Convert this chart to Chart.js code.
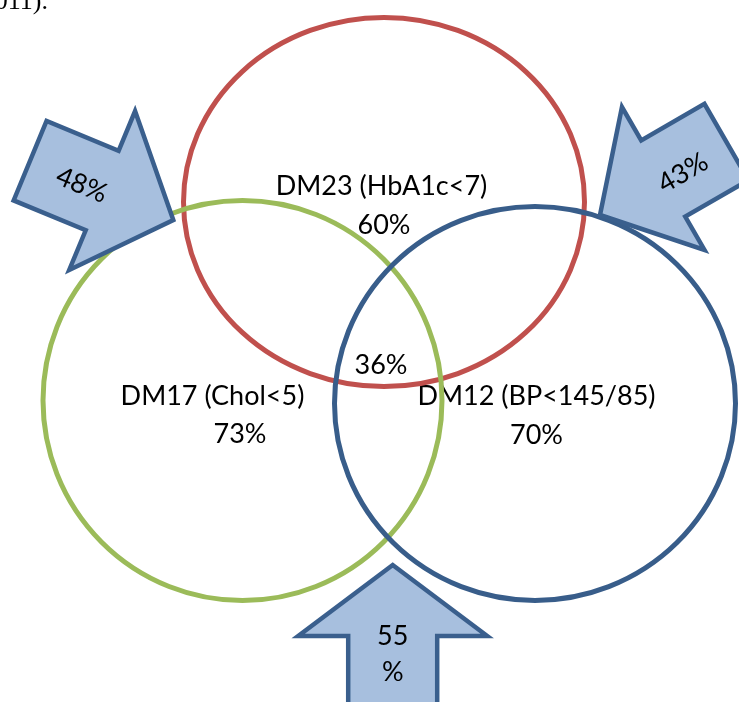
<!DOCTYPE html>
<html>
<head>
<meta charset="utf-8">
<script src="https://cdn.jsdelivr.net/npm/chart.js@4/dist/chart.umd.min.js"></script>
<style>
  html, body { margin: 0; padding: 0; background: #ffffff; }
  #venn { display: block; }
</style>
</head>
<body>
<canvas id="venn" width="739" height="702"></canvas>
<script>
// Diabetes care targets: share of patients meeting each target and their overlaps
const setNames = ['DM23 (HbA1c<7)', 'DM17 (Chol<5)', 'DM12 (BP<145/85)'];
const setValues = [60, 73, 70];
const allThreeValue = 36;
const pairValues = [48, 43, 55];   // HbA1c+Chol, HbA1c+BP, Chol+BP

// Diagram layout (in the plotting plane's units)
const setCenterX = [384, 242.5, 535];
const setCenterY = [202, 400.5, 403.5];
const setRadiusX = [200.5, 199.5, 200.5];
const setRadiusY = [184.5, 200, 197];
const setColors = ['#C0504D', '#9BBB59', '#385D8A'];
const setNameX = [381.5, 212.5, 536.5];
const setNameY = [186, 396, 396];
const setValueX = [384, 240, 536.5];
const setValueY = [225, 434, 435];
const allThreeX = 381;
const allThreeY = 365;

// Block arrows pointing into each pairwise overlap
const arrowTipX = [173.3, 600, 392.7];
const arrowTipY = [220, 215, 565];
const arrowAngle = [22.5, 150, -90];      // degrees, screen orientation
const arrowLength = [155, 146, 150];
const arrowHeadLength = [77, 73, 71];
const arrowHeadWidth = [172, 165, 189];
const arrowShaftWidth = [86, 88, 89];
const arrowLabelX = [81.7, 683, 392.7];
const arrowLabelY = [185, 173, 636];
const arrowLabelAngle = [22.5, -30, 0];

const FONT = 'Lato, "Open Sans", sans-serif';
const FONT_SIZE = 27;

const vennPlugin = {
  id: 'vennShapes',
  afterDatasetsDraw(chart) {
    const ctx = chart.ctx;
    const sx = chart.scales.x, sy = chart.scales.y;
    const px = v => sx.getPixelForValue(v);
    const py = v => sy.getPixelForValue(v);
    const lenX = v => Math.abs(sx.getPixelForValue(v) - sx.getPixelForValue(0));
    const lenY = v => Math.abs(sy.getPixelForValue(v) - sy.getPixelForValue(0));
    const setPts = chart.getDatasetMeta(0).data;
    const arrowPts = chart.getDatasetMeta(1).data;

    ctx.save();
    ctx.fillStyle = '#000000';
    ctx.textAlign = 'center';
    ctx.textBaseline = 'middle';
    ctx.font = FONT_SIZE + 'px ' + FONT;
    setNames.forEach((name, i) => {
      ctx.fillText(name, px(setNameX[i]), py(setNameY[i]));
      ctx.fillText(setValues[i] + '%', px(setValueX[i]), py(setValueY[i]));
    });
    ctx.fillText(allThreeValue + '%', px(allThreeX), py(allThreeY));

    // Trailing end of the preceding paragraph's citation
    ctx.textAlign = 'right';
    ctx.textBaseline = 'alphabetic';
    ctx.font = '26px "Liberation Serif", serif';
    ctx.fillText('(2011).', px(48), py(9));
    ctx.restore();

    // Set outlines
    setPts.forEach((pt, i) => {
      ctx.save();
      ctx.beginPath();
      ctx.ellipse(pt.x, pt.y, lenX(setRadiusX[i]), lenY(setRadiusY[i]), 0, 0, Math.PI * 2);
      ctx.lineWidth = 5;
      ctx.strokeStyle = setColors[i];
      ctx.stroke();
      ctx.restore();
    });

    // Arrows
    arrowPts.forEach((pt, i) => {
      const L = lenX(arrowLength[i]);
      const hl = lenX(arrowHeadLength[i]);
      const hw = lenX(arrowHeadWidth[i]) / 2;
      const sw = lenX(arrowShaftWidth[i]) / 2;
      ctx.save();
      ctx.translate(pt.x, pt.y);
      ctx.rotate(arrowAngle[i] * Math.PI / 180);
      ctx.beginPath();
      ctx.moveTo(0, 0);
      ctx.lineTo(-hl, -hw);
      ctx.lineTo(-hl, -sw);
      ctx.lineTo(-L, -sw);
      ctx.lineTo(-L, sw);
      ctx.lineTo(-hl, sw);
      ctx.lineTo(-hl, hw);
      ctx.closePath();
      ctx.fillStyle = '#A7BFDE';
      ctx.fill();
      ctx.lineWidth = 4.5;
      ctx.lineJoin = 'miter';
      ctx.strokeStyle = '#3A5F8D';
      ctx.stroke();
      ctx.restore();

      ctx.save();
      ctx.translate(px(arrowLabelX[i]), py(arrowLabelY[i]));
      ctx.rotate(arrowLabelAngle[i] * Math.PI / 180);
      ctx.fillStyle = '#000000';
      ctx.textAlign = 'center';
      ctx.textBaseline = 'middle';
      ctx.font = FONT_SIZE + 'px ' + FONT;
      if (arrowAngle[i] === -90) {
        // narrow shaft: value wraps onto two lines
        ctx.fillText(String(pairValues[i]), 0, 0);
        ctx.fillText('%', 0, lenY(36.5));
      } else {
        ctx.fillText(pairValues[i] + '%', 0, 0);
      }
      ctx.restore();
    });
  }
};

new Chart(document.getElementById('venn'), {
  type: 'scatter',
  data: {
    datasets: [
      {
        label: 'Targets',
        data: setCenterX.map((x, i) => ({ x, y: setCenterY[i] })),
        pointRadius: 0
      },
      {
        label: 'Pairs',
        data: arrowTipX.map((x, i) => ({ x, y: arrowTipY[i] })),
        pointRadius: 0
      }
    ]
  },
  options: {
    responsive: false,
    devicePixelRatio: 1,
    animation: false,
    layout: { padding: 0 },
    plugins: { legend: { display: false }, tooltip: { enabled: false } },
    events: [],
    scales: {
      x: { type: 'linear', min: 0, max: 739, display: false },
      y: { type: 'linear', min: 0, max: 702, reverse: true, display: false }
    }
  },
  plugins: [vennPlugin]
});
</script>
</body>
</html>
